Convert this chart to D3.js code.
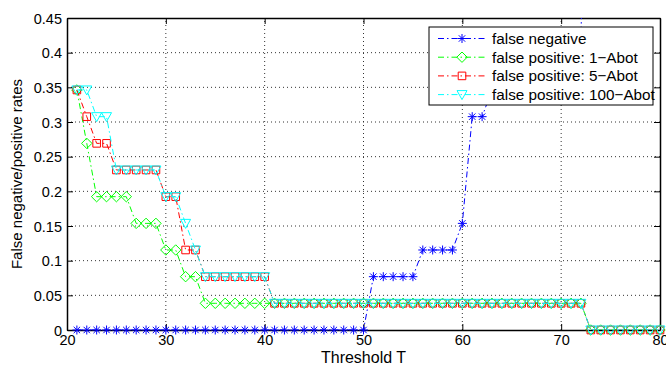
<!DOCTYPE html>
<html>
<head>
<meta charset="utf-8">
<script src="https://cdn.jsdelivr.net/npm/d3@7"></script>
<style>
  body { margin: 0; background: #fff; }
  svg text { font-family: "Liberation Sans", Arial, Helvetica, sans-serif; fill: #000; }
</style>
</head>
<body>
<div id="chart"></div>
<script>
// Threshold T values (x axis)
const thresholds = [
  21, 22, 23, 24, 25, 26, 27, 28, 29, 30, 31, 32, 33, 34, 35, 36, 37, 38, 39, 40,
  41, 42, 43, 44, 45, 46, 47, 48, 49, 50, 51, 52, 53, 54, 55, 56, 57, 58, 59, 60,
  61, 62, 63, 64, 65, 66, 67, 68, 69, 70, 71, 72, 73, 74, 75, 76, 77, 78, 79, 80
];

// false negative rate (goes off the top of the axes after T=72)
const falseNegative = [
  0, 0, 0, 0, 0, 0, 0, 0, 0, 0, 0, 0, 0, 0, 0, 0, 0, 0, 0, 0,
  0, 0, 0, 0, 0, 0, 0, 0, 0, 0, 0.0769, 0.0769, 0.0769, 0.0769, 0.0769, 0.1154, 0.1154, 0.1154, 0.1154, 0.1538,
  0.3077, 0.3077, 0.3462, 0.3462, 0.3462, 0.3846, 0.3846, 0.3846, 0.3846, 0.4231, 0.4231, 0.4231, 1, 1, 1, 1, 1, 1, 1, 1
];

const fp1Abot = [
  0.3462, 0.2692, 0.1923, 0.1923, 0.1923, 0.1923, 0.1538, 0.1538, 0.1538, 0.1154, 0.1154, 0.0769, 0.0769, 0.0385, 0.0385, 0.0385, 0.0385, 0.0385, 0.0385, 0.0385,
  0.0385, 0.0385, 0.0385, 0.0385, 0.0385, 0.0385, 0.0385, 0.0385, 0.0385, 0.0385, 0.0385, 0.0385, 0.0385, 0.0385, 0.0385, 0.0385, 0.0385, 0.0385, 0.0385, 0.0385,
  0.0385, 0.0385, 0.0385, 0.0385, 0.0385, 0.0385, 0.0385, 0.0385, 0.0385, 0.0385, 0.0385, 0.0385, 0, 0, 0, 0, 0, 0, 0, 0
];

const fp5Abot = [
  0.3462, 0.3077, 0.2692, 0.2692, 0.2308, 0.2308, 0.2308, 0.2308, 0.2308, 0.1923, 0.1923, 0.1154, 0.1154, 0.0769, 0.0769, 0.0769, 0.0769, 0.0769, 0.0769, 0.0769,
  0.0385, 0.0385, 0.0385, 0.0385, 0.0385, 0.0385, 0.0385, 0.0385, 0.0385, 0.0385, 0.0385, 0.0385, 0.0385, 0.0385, 0.0385, 0.0385, 0.0385, 0.0385, 0.0385, 0.0385,
  0.0385, 0.0385, 0.0385, 0.0385, 0.0385, 0.0385, 0.0385, 0.0385, 0.0385, 0.0385, 0.0385, 0.0385, 0, 0, 0, 0, 0, 0, 0, 0
];

const fp100Abot = [
  0.3462, 0.3462, 0.3077, 0.3077, 0.2308, 0.2308, 0.2308, 0.2308, 0.2308, 0.1923, 0.1923, 0.1538, 0.1154, 0.0769, 0.0769, 0.0769, 0.0769, 0.0769, 0.0769, 0.0769,
  0.0385, 0.0385, 0.0385, 0.0385, 0.0385, 0.0385, 0.0385, 0.0385, 0.0385, 0.0385, 0.0385, 0.0385, 0.0385, 0.0385, 0.0385, 0.0385, 0.0385, 0.0385, 0.0385, 0.0385,
  0.0385, 0.0385, 0.0385, 0.0385, 0.0385, 0.0385, 0.0385, 0.0385, 0.0385, 0.0385, 0.0385, 0.0385, 0, 0, 0, 0, 0, 0, 0, 0
];

const xTicks = [20, 30, 40, 50, 60, 70, 80];
const yTicks = [0, 0.05, 0.1, 0.15, 0.2, 0.25, 0.3, 0.35, 0.4, 0.45];
const seriesNames = ['false negative', 'false positive: 1\u2212Abot', 'false positive: 5\u2212Abot', 'false positive: 100\u2212Abot'];

// marker shapes, matlab style ('*', 'd', 's', 'v')
const MARKERS = {
  star: 'M-4.5,0H4.5M0,-4.5V4.5M-3.2,-3.2L3.2,3.2M-3.2,3.2L3.2,-3.2',
  diamond: 'M0,-5.2L5.2,0L0,5.2L-5.2,0Z',
  square: 'M-3.8,-3.8H3.8V3.8H-3.8Z',
  triangle: 'M-5,-4L5,-4L0,5Z'
};

const series = [
  { name: seriesNames[0], values: falseNegative, color: '#0000ff', marker: 'star' },
  { name: seriesNames[1], values: fp1Abot, color: '#00ff00', marker: 'diamond' },
  { name: seriesNames[2], values: fp5Abot, color: '#ff0000', marker: 'square' },
  { name: seriesNames[3], values: fp100Abot, color: '#00ffff', marker: 'triangle' }
];

const W = 666, H = 367;
const M = { left: 67, right: 6, top: 18, bottom: 37 };
const DASH = '6,3,1.5,3';

const svg = d3.select('#chart').append('svg')
  .attr('width', W)
  .attr('height', H);

const x = d3.scaleLinear().domain([20, 80]).range([M.left, W - M.right]);
const y = d3.scaleLinear().domain([0, 0.45]).range([H - M.bottom, M.top]);

svg.append('clipPath').attr('id', 'plot-clip')
  .append('rect')
  .attr('x', M.left).attr('y', M.top)
  .attr('width', W - M.left - M.right)
  .attr('height', H - M.top - M.bottom);

// dotted grid
const grid = svg.append('g');
grid.selectAll('.gx').data(xTicks.slice(1, -1)).join('line')
  .attr('x1', d => x(d)).attr('x2', d => x(d))
  .attr('y1', y(0)).attr('y2', y(0.45))
  .attr('stroke', '#333').attr('stroke-dasharray', '1,3');
grid.selectAll('.gy').data(yTicks.slice(1, -1)).join('line')
  .attr('x1', x(20)).attr('x2', x(80))
  .attr('y1', d => y(d)).attr('y2', d => y(d))
  .attr('stroke', '#333').attr('stroke-dasharray', '1,3');

// axes (ticks point inward, mirrored on top/right)
const xAxis = svg.append('g')
  .attr('transform', `translate(0,${y(0)})`)
  .call(d3.axisBottom(x).tickValues(xTicks).tickSizeInner(-6).tickSizeOuter(0).tickPadding(5));
const yAxis = svg.append('g')
  .attr('transform', `translate(${x(20)},0)`)
  .call(d3.axisLeft(y).tickValues(yTicks).tickFormat(d3.format('')).tickSizeInner(-6).tickSizeOuter(0).tickPadding(5));
svg.append('g')
  .attr('transform', `translate(0,${y(0.45)})`)
  .call(d3.axisTop(x).tickValues(xTicks).tickFormat('').tickSizeInner(-6).tickSizeOuter(0));
svg.append('g')
  .attr('transform', `translate(${x(80)},0)`)
  .call(d3.axisRight(y).tickValues(yTicks).tickFormat('').tickSizeInner(-6).tickSizeOuter(0));

svg.selectAll('.domain').attr('stroke', '#000').attr('stroke-width', 1.5);
svg.selectAll('.tick line').attr('stroke', '#000');
xAxis.selectAll('text').attr('font-size', 14.5).attr('dy', '0.71em');
yAxis.selectAll('text').attr('font-size', 14.5).attr('dy', '0.35em');

// data
const line = d3.line()
  .x((d, i) => x(thresholds[i]))
  .y(d => y(d));

const plot = svg.append('g');
series.forEach(s => {
  plot.append('path')
    .attr('d', line(s.values))
    .attr('clip-path', 'url(#plot-clip)')
    .attr('fill', 'none')
    .attr('stroke', s.color)
    .attr('stroke-width', 1)
    .attr('stroke-dasharray', DASH);

  plot.append('g').selectAll('path')
    .data(s.values.map((v, i) => [thresholds[i], v]).filter(d => d[1] <= 0.45))
    .join('path')
    .attr('transform', d => `translate(${x(d[0])},${y(d[1])})`)
    .attr('d', MARKERS[s.marker])
    .attr('fill', 'none')
    .attr('stroke', s.color)
    .attr('stroke-width', 1);
});

// axis labels
svg.append('text')
  .attr('x', (x(20) + x(80)) / 2)
  .attr('y', 363)
  .attr('text-anchor', 'middle')
  .attr('font-size', 16)
  .text('Threshold T');

svg.append('text')
  .attr('transform', `translate(22,${(y(0) + y(0.45)) / 2}) rotate(-90)`)
  .attr('text-anchor', 'middle')
  .attr('font-size', 15)
  .text('False negative/positive rates');

// legend
const legend = svg.append('g').attr('transform', 'translate(429,27)');
legend.append('rect')
  .attr('width', 224).attr('height', 78)
  .attr('fill', '#fff').attr('stroke', '#000').attr('stroke-width', 1);

series.forEach((s, i) => {
  const row = legend.append('g').attr('transform', `translate(0,${11.5 + i * 18.7})`);
  row.append('line')
    .attr('x1', 9).attr('x2', 56)
    .attr('stroke', s.color).attr('stroke-dasharray', DASH);
  row.append('path')
    .attr('transform', 'translate(33,0)')
    .attr('d', MARKERS[s.marker])
    .attr('fill', 'none').attr('stroke', s.color);
  row.append('text')
    .attr('x', 63)
    .attr('dy', '0.35em')
    .attr('font-size', 15.3)
    .text(s.name);
});
</script>
</body>
</html>
